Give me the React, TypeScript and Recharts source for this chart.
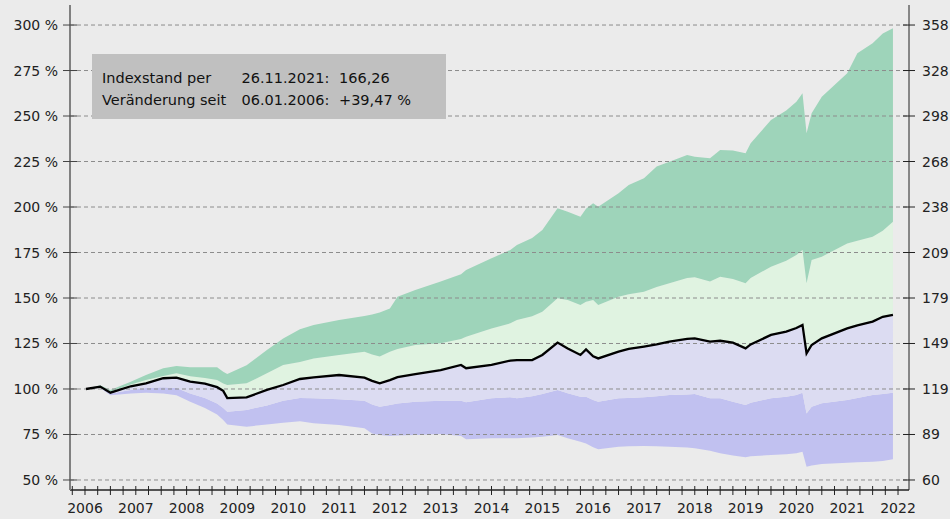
import {
  ComposedChart,
  Area,
  Line,
  XAxis,
  YAxis,
  ReferenceLine,
} from "recharts";

// decimal years of the sampled points
const years = [
  2006.02, 2006.3, 2006.5, 2006.9, 2007.2, 2007.54, 2007.8, 2008.07, 2008.36,
  2008.6, 2008.72, 2008.8, 2009.18, 2009.58, 2009.9, 2010.23, 2010.5, 2011,
  2011.5, 2011.65, 2011.8, 2012, 2012.15, 2012.5, 2013, 2013.4, 2013.5, 2014,
  2014.37, 2014.5, 2014.8, 2015, 2015.3, 2015.5, 2015.75, 2015.86, 2016,
  2016.1, 2016.5, 2016.7, 2017, 2017.25, 2017.5, 2017.85, 2018, 2018.3,
  2018.5, 2018.75, 2019, 2019.1, 2019.5, 2019.8, 2020, 2020.12, 2020.2,
  2020.3, 2020.5, 2021, 2021.2, 2021.5, 2021.7, 2021.9,
];

// values in % of the start level
const upperBound = [
  100, 102, 99.5, 104, 107.7, 111.4, 112.6, 112, 112, 111.9, 109.5, 108.2, 113,
  121.4, 127.8, 132.8, 135.2, 137.9, 140.1, 141, 142, 144.3, 150.7, 154.4, 159,
  163, 165.4, 171.8, 176.4, 179.1, 183, 187.4, 199.3, 197.4, 194.7, 199, 202,
  200.2, 207.5, 212.1, 215.8, 222.2, 224.9, 228.6, 227.6, 226.8, 231.3, 231,
  229.5, 235, 247.8, 253, 257.9, 262.5, 240.5, 251.5, 260.6, 273.5, 284.5, 290,
  295.4, 298.2,
];
const upperMid = [
  100, 101.5, 98.5, 102.5, 105, 107.1, 108.6, 107, 106, 105, 103, 102.2, 103.1,
  108.6, 113.2, 114.8, 116.8, 118.7, 120.5, 119, 117.8, 120.5, 122, 124.2,
  125.1, 127.5, 128.7, 133.3, 136.1, 137.9, 140, 142.5, 149.8, 148.9, 146.2,
  148, 148.9, 146.2, 150.7, 152, 153.5, 156, 158.1, 161, 161.4, 159, 161.7,
  160.5, 158.1, 161, 167.2, 170.5, 173.6, 176.4, 158.1, 170.9, 172.7, 180,
  181.5, 183.7, 187, 191.9,
];
const indexLine = [
  100, 101.3, 98, 101.5, 103.1, 105.9, 106.2, 104, 103, 101, 99, 95, 95.4, 99.5,
  102.2, 105.5, 106.4, 107.7, 106.2, 104.5, 103.1, 104.9, 106.5, 108.2, 110.4,
  113.2, 111.4, 113.2, 115.6, 115.9, 115.9, 118.7, 125.5, 122.3, 118.7, 121.8,
  118, 116.8, 120.5, 122, 123.3, 124.5, 126, 127.5, 127.8, 126, 126.5, 125.5,
  122.3, 124.5, 129.7, 131.5, 133.5, 135.2, 119.6, 124.2, 127.8, 133.3, 135,
  137, 139.7, 140.7,
];
const lowerMid = [
  100, 100.8, 97.5, 99.5, 100.5, 101, 100.5, 97.5, 95, 92, 89.5, 87.5, 88.5, 91,
  93.5, 95, 94.9, 94.3, 93.6, 91.5, 90.3, 91.2, 92, 93, 93.6, 93.5, 92.7, 94.9,
  95.5, 94.9, 96, 97.3, 99.5, 97.6, 95.8, 95.8, 94, 93, 94.9, 95, 95.4, 96,
  96.7, 97, 97.3, 94.9, 94.9, 93, 91.2, 92.5, 94.9, 95.8, 96.7, 98, 86.6, 90.3,
  92.1, 94, 95, 96.7, 97.3, 98,
];
const lowerBound = [
  100, 100.5, 96.5, 97.5, 98, 97.5, 96.5, 93, 89.5, 86, 83, 80.5, 79.3, 80.5,
  81.5, 82.3, 81.2, 80.2, 78.4, 75.5, 74.7, 74.2, 74.5, 74.7, 75.3, 74.2, 72.4,
  72.9, 72.9, 72.9, 73.3, 73.8, 74.7, 72.9, 71, 70, 68, 66.9, 68.3, 68.5, 68.7,
  68.5, 68.3, 67.8, 67.4, 66.1, 64.7, 63.5, 62.5, 63, 63.7, 64.2, 64.7, 65.5,
  57.3, 58, 58.8, 59.5, 59.8, 60, 60.5, 61.4,
];

const yearLabels = [
  2006, 2007, 2008, 2009, 2010, 2011, 2012, 2013, 2014, 2015, 2016, 2017, 2018,
  2019, 2020, 2021, 2022,
];
const pctTicks = [50, 75, 100, 125, 150, 175, 200, 225, 250, 275, 300];

const baseIndex = 119.21;

const data = years.map((year, i) => ({
  year,
  band4: [upperMid[i], upperBound[i]],
  band3: [indexLine[i], upperMid[i]],
  band2: [lowerMid[i], indexLine[i]],
  band1: [lowerBound[i], lowerMid[i]],
  line: indexLine[i],
}));

// quarter ticks from Q4 2005 up to 2022
const quarterTicks: number[] = [2005.75];
yearLabels.forEach((y) => {
  quarterTicks.push(y);
  if (y < 2022) quarterTicks.push(y + 0.25, y + 0.5, y + 0.75);
});

const font = "DejaVu Sans, sans-serif";

function XTick({ x, y, payload }: any) {
  const v = payload.value;
  const isYear = Math.abs(v - Math.round(v)) < 0.01;
  return (
    <g>
      <line x1={x} x2={x} y1={y - 4} y2={y + 5} stroke="#222" strokeWidth={1} />
      {isYear && (
        <text x={x} y={y + 23} textAnchor="middle" fontSize={14} fill="#222" fontFamily={font}>
          {Math.round(v)}
        </text>
      )}
    </g>
  );
}

function LeftTick({ x, y, payload }: any) {
  return (
    <g>
      <line x1={x - 7} x2={x + 7} y1={y} y2={y} stroke="#444" strokeWidth={1} />
      <text x={x - 12} y={y + 5} textAnchor="end" fontSize={14} fill="#222" fontFamily={font}>
        {payload.value} %
      </text>
    </g>
  );
}

function RightTick({ x, y, payload }: any) {
  return (
    <g>
      <line x1={x - 6} x2={x + 6} y1={y} y2={y} stroke="#222" strokeWidth={1} />
      <text x={x + 13} y={y + 5} textAnchor="start" fontSize={14} fill="#222" fontFamily={font}>
        {Math.round(payload.value * baseIndex / 100)}
      </text>
    </g>
  );
}

export default function App() {
  return (
    <div
      style={{
        position: "absolute",
        left: 0,
        top: 0,
        width: 950,
        height: 519,
        background: "#ebebeb",
        fontFamily: font,
      }}
    >
      <ComposedChart
        width={950}
        height={519}
        data={data}
        margin={{ top: 5, right: 0, bottom: 0, left: 0 }}
      >
        <XAxis
          dataKey="year"
          type="number"
          domain={[2005.705, 2022.216]}
          ticks={quarterTicks}
          interval={0}
          height={29}
          tickLine={false}
          tickSize={0}
          tickMargin={0}
          axisLine={{ stroke: "#222", strokeWidth: 1.5 }}
          tick={<XTick />}
          allowDataOverflow
        />
        <YAxis
          yAxisId="left"
          type="number"
          domain={[44.5, 311]}
          ticks={pctTicks}
          interval={0}
          width={70}
          tickLine={false}
          tickSize={0}
          tickMargin={0}
          axisLine={{ stroke: "#808080", strokeWidth: 2 }}
          tick={<LeftTick />}
          allowDataOverflow
        />
        <YAxis
          yAxisId="right"
          orientation="right"
          type="number"
          domain={[44.5, 311]}
          ticks={pctTicks}
          interval={0}
          width={41}
          tickLine={false}
          tickSize={0}
          tickMargin={0}
          axisLine={{ stroke: "#222", strokeWidth: 1 }}
          tick={<RightTick />}
          allowDataOverflow
        />
        <Area yAxisId="left" type="linear" dataKey="band1" stroke="none" fill="#c1c1f0" fillOpacity={1} isAnimationActive={false} />
        <Area yAxisId="left" type="linear" dataKey="band2" stroke="none" fill="#dcdcf2" fillOpacity={1} isAnimationActive={false} />
        <Area yAxisId="left" type="linear" dataKey="band3" stroke="none" fill="#e0f3e1" fillOpacity={1} isAnimationActive={false} />
        <Area yAxisId="left" type="linear" dataKey="band4" stroke="none" fill="#9ed4ba" fillOpacity={1} isAnimationActive={false} />
        {pctTicks.map((t) => (
          <ReferenceLine
            key={t}
            yAxisId="left"
            y={t}
            stroke="#8c8c8c"
            strokeDasharray="4 3"
            strokeWidth={1}
          />
        ))}
        <Line
          yAxisId="left"
          type="linear"
          dataKey="line"
          stroke="#000"
          strokeWidth={2.3}
          dot={false}
          isAnimationActive={false}
        />
      </ComposedChart>
      <svg
        width={950}
        height={519}
        style={{ position: "absolute", left: 0, top: 0, pointerEvents: "none" }}
      >
        <rect x={92} y={54} width={354} height={65} fill="#c0c0c0" />
        <g fontSize={14.5} fill="#111" fontFamily={font}>
          <text x={102} y={82.5}>Indexstand per</text>
          <text x={241.5} y={82.5}>26.11.2021:</text>
          <text x={339} y={82.5}>166,26</text>
          <text x={102} y={105}>Veränderung seit</text>
          <text x={241.5} y={105}>06.01.2006:</text>
          <text x={339} y={105}>+39,47 %</text>
        </g>
      </svg>
    </div>
  );
}
